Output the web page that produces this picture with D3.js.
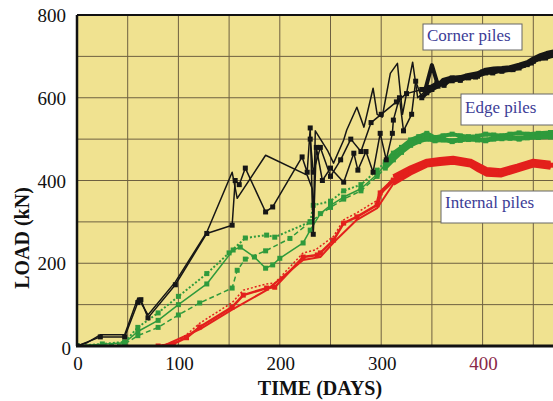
<!DOCTYPE html>
<html><head><meta charset="utf-8">
<script src="https://cdn.jsdelivr.net/npm/d3@7"></script>
<style>body{margin:0;background:#fff}svg{display:block}</style>
</head><body>
<svg id="c" width="553" height="401"></svg>
<script>
// ---- data (day, load kN) ----
const xTicks = [0, 100, 200, 300, 400];
const yTicks = [0, 200, 400, 600, 800];
const legendLabels = ["Corner piles", "Edge piles", "Internal piles"];

const cornerA = [[0,0],[10,8],[23,27],[47,27],[60,116],[63,105],[70,75],[97,155],[128,275],[153,420],[158,357],[186,461],[227,413],[232,380],[233,280],[235,520],[247,473],[253,442],[263,498],[266,522],[276,577],[283,529],[292,623],[296,560],[301,553],[309,659],[316,683],[321,560],[331,686],[336,600],[343,615],[350,679],[356,630],[361,643],[368,648],[378,650],[386,655],[395,659],[403,668],[411,671],[419,672],[427,674],[436,680],[444,686],[450,695],[457,703],[463,708],[470,712]];
const cornerB = [[0,0],[23,22],[47,22],[60,105],[63,112],[70,68],[97,148],[128,272],[153,292],[156,400],[160,390],[166,430],[186,324],[193,336],[222,457],[227,420],[230,527],[233,270],[236,480],[242,400],[250,430],[263,396],[273,466],[277,425],[285,470],[292,420],[299,514],[305,450],[311,514],[312,546],[318,600],[322,520],[330,560],[334,640],[340,600],[345,612],[350,620],[356,628],[362,638],[370,641],[378,645],[386,648],[395,652],[403,660],[411,664],[419,664],[427,668],[436,672],[444,680],[450,688],[457,696],[463,700],[470,705]];
const cornerC = [[230,500],[233,420],[240,480],[250,410],[260,450],[270,500],[280,470],[290,540],[300,560],[315,590],[325,610],[340,620],[348,625],[355,635],[362,630],[370,648],[378,642],[385,652],[393,650],[400,662],[410,660],[420,668],[430,668],[440,678],[448,684],[455,694],[462,696],[470,702]];

const edgeA = [[0,0],[25,5],[47,10],[60,45],[80,80],[100,120],[128,175],[150,225],[166,261],[187,268],[195,263],[230,300],[233,340],[250,350],[263,375],[280,390],[296,425],[304,445],[312,466],[320,480],[329,498],[337,506],[345,514],[353,504],[361,508],[370,512],[378,508],[386,506],[395,507],[403,512],[411,510],[419,508],[427,512],[436,515],[444,512],[455,514],[467,516]];
const edgeB = [[0,0],[47,8],[60,35],[80,62],[100,100],[128,150],[154,232],[161,239],[175,215],[186,188],[193,196],[200,212],[223,249],[230,280],[240,320],[250,340],[263,360],[280,380],[296,415],[304,438],[312,456],[320,470],[329,490],[337,498],[345,505],[353,498],[361,500],[370,496],[378,500],[386,502],[395,500],[403,498],[411,503],[419,504],[427,505],[436,502],[444,505],[455,508],[467,510]];
const edgeC = [[0,0],[47,5],[60,25],[80,45],[100,75],[121,104],[153,140],[158,183],[166,210],[186,230],[210,260],[230,300],[250,335],[263,355],[280,375],[296,410],[304,430],[312,450],[320,468],[329,485],[337,494],[345,500],[353,496],[361,498],[370,494],[378,497],[386,499],[395,498],[403,496],[411,500],[419,501],[427,502],[436,500],[444,503],[455,504],[467,505]];

const internalA = [[80,0],[95,5],[108,20],[121,46],[153,94],[164,123],[187,140],[195,142],[223,215],[237,220],[240,225],[253,256],[263,297],[276,312],[296,341],[299,370],[312,401],[320,412],[329,425],[337,436],[345,442],[358,446],[371,449],[380,446],[388,442],[396,430],[404,420],[411,417],[418,418],[426,424],[434,430],[442,438],[450,442],[458,440],[467,437]];
const internalB = [[80,0],[100,10],[121,55],[153,105],[164,135],[187,150],[195,152],[223,225],[235,232],[253,265],[263,305],[276,322],[296,352],[312,410],[329,432],[345,448],[358,452],[371,455],[388,448],[396,438],[404,428],[418,425],[434,436],[450,448],[467,443]];
const internalC = [[85,0],[121,40],[153,88],[187,135],[223,208],[240,215],[253,250],[276,305],[296,333],[312,392],[329,417],[345,436],[358,440],[371,443],[388,436],[396,424],[404,414],[418,412],[434,424],[450,436],[467,431]];

// ---- layout ----
const svg = d3.select("#c");
const L = 77, T = 15, B = 346, R = 553;
const x = d3.scaleLinear().domain([0, 400]).range([L, 482.6]);
const y = d3.scaleLinear().domain([0, 800]).range([B, T]);
const serif = "'Liberation Serif','Times New Roman',serif";

svg.append("defs").append("clipPath").attr("id","clip")
  .append("rect").attr("x",L).attr("y",T).attr("width",R-L).attr("height",B-T);

svg.append("rect").attr("x",L).attr("y",T).attr("width",R-L).attr("height",B-T).attr("fill","#f0e290");

// grid
const g = svg.append("g").attr("clip-path","url(#clip)");
g.selectAll(".vg").data(d3.range(50, 500, 50)).join("line")
  .attr("x1",d=>x(d)).attr("x2",d=>x(d)).attr("y1",T).attr("y2",B)
  .attr("stroke","#6e6040").attr("stroke-width",1);
g.selectAll(".hg").data(d3.range(100, 800, 100)).join("line")
  .attr("x1",L).attr("x2",R).attr("y1",d=>y(d)).attr("y2",d=>y(d))
  .attr("stroke","#6e6040").attr("stroke-width",1);

const line = d3.line().x(d=>x(d[0])).y(d=>y(d[1]));

function drawSeries(data, color, dash, marker, w, thickFrom) {
  g.append("path").datum(data).attr("d", line).attr("fill","none")
    .attr("stroke", color).attr("stroke-width", w).attr("stroke-dasharray", dash)
    .attr("stroke-linejoin","round");
  const late = data.filter(d => d[0] >= thickFrom);
  g.append("path").datum(late).attr("d", line).attr("fill","none")
    .attr("stroke", color).attr("stroke-width", 4).attr("stroke-linejoin","round");
  if (marker) {
    g.selectAll(null).data(data).join("rect")
      .attr("x", d=>x(d[0])-2.5).attr("y", d=>y(d[1])-2.5)
      .attr("width",5).attr("height",5).attr("fill",color);
  }
}
const black = "#161616", green = "#2f9a3c", red = "#e3201c";
drawSeries(edgeA, green, "2,2", true, 2, 300);
drawSeries(edgeB, green, null, true, 1.5, 300);
drawSeries(edgeC, green, "5,3", true, 1.5, 300);
drawSeries(internalB, red, "2,2", false, 1.5, 300);
drawSeries(internalC, red, null, false, 2, 300);
drawSeries(internalA, red, null, true, 2.5, 296);
drawSeries(cornerC, black, null, true, 1.5, 340);
drawSeries(cornerB, black, null, true, 1.5, 340);
drawSeries(cornerA, black, null, false, 1.5, 343);

// frame
svg.append("line").attr("x1",L).attr("x2",R).attr("y1",T).attr("y2",T).attr("stroke","#111").attr("stroke-width",2);
svg.append("line").attr("x1",L).attr("x2",L).attr("y1",T).attr("y2",B).attr("stroke","#111").attr("stroke-width",2.5);
svg.append("line").attr("x1",L-1).attr("x2",R).attr("y1",B).attr("y2",B).attr("stroke","#111").attr("stroke-width",3);

// ticks
svg.selectAll(".xt").data(xTicks).join("text")
  .attr("x",d=>x(d)+1).attr("y",370).attr("text-anchor","middle")
  .attr("font-family",serif).attr("font-size",19)
  .attr("fill",d=>d===400?"#8a2848":"#111").text(d=>d);
svg.selectAll(".yt").data(yTicks).join("text")
  .attr("x",d=>d===0?71:66).attr("y",d=>y(d)+(d===0?9:7)).attr("text-anchor","end")
  .attr("font-family",serif).attr("font-size",19).attr("fill","#111").text(d=>d);

// titles
svg.append("text").attr("x",320).attr("y",395).attr("text-anchor","middle")
  .attr("font-family",serif).attr("font-weight","bold").attr("font-size",20).attr("fill","#111").text("TIME (DAYS)");
svg.append("text").attr("transform","translate(29,238) rotate(-90)").attr("text-anchor","middle")
  .attr("font-family",serif).attr("font-weight","bold").attr("font-size",20).attr("fill","#111").text("LOAD (kN)");

// legend boxes
const boxes = [
  {label: legendLabels[0], x: 423, y: 24, w: 99, h: 26, base: 41},
  {label: legendLabels[1], x: 461, y: 94, w: 96, h: 31, base: 113},
  {label: legendLabels[2], x: 441, y: 191, w: 116, h: 32, base: 208}
];
boxes.forEach(b => {
  svg.append("rect").attr("x",b.x).attr("y",b.y).attr("width",b.w).attr("height",b.h)
    .attr("fill","#fff").attr("stroke","#666").attr("stroke-width",1);
  svg.append("text").attr("x",b.x+4).attr("y",b.base).attr("font-family",serif)
    .attr("font-size",17).attr("fill","#3c3c96").text(b.label);
});
</script>
</body></html>
